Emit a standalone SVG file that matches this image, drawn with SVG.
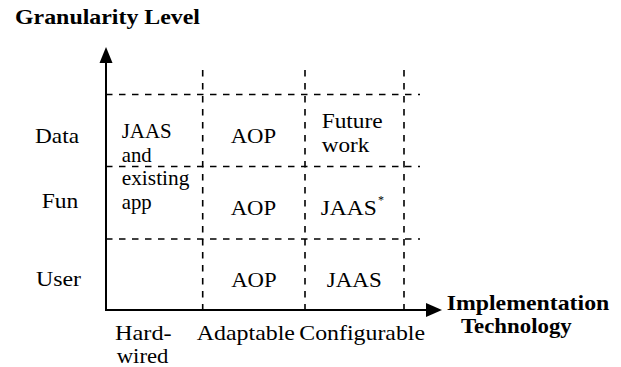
<svg xmlns="http://www.w3.org/2000/svg" width="621" height="367" viewBox="0 0 621 367">
<style>
  .t { font-family: "Liberation Serif", "Times New Roman", serif; font-size: 21px; fill: #000; }
  .b { font-family: "Liberation Serif", "Times New Roman", serif; font-size: 22px; font-weight: bold; fill: #000; }
  .b2 { font-size: 21px; }
  .grid { stroke: #000; stroke-width: 1.6; stroke-dasharray: 6.5 6.5; fill: none; }
  .axis { stroke: #000; stroke-width: 2; fill: none; }
</style>
<rect width="621" height="367" fill="#fff"/>

<g id="grid">
  <line class="grid" x1="106" y1="94.5" x2="420" y2="94.5"/>
  <line class="grid" x1="106" y1="166.5" x2="420" y2="166.5"/>
  <line class="grid" x1="106" y1="239" x2="420" y2="239"/>
  <line class="grid" x1="202.7" y1="70" x2="202.7" y2="310"/>
  <line class="grid" x1="305" y1="70" x2="305" y2="310"/>
  <line class="grid" x1="404" y1="70" x2="404" y2="310"/>
</g>

<g id="connectors">
  <line class="axis" x1="106" y1="311" x2="106" y2="55"/>
  <path d="M99.5,63 L106,47 L112.5,63 z" fill="#000"/>
  <line class="axis" x1="105" y1="310" x2="430" y2="310"/>
  <path d="M426,303 L442,310 L426,317 z" fill="#000"/>
</g>

<g id="axis-titles">
  <text class="b" x="15" y="24" textLength="185" lengthAdjust="spacingAndGlyphs">Granularity Level</text>
  <text class="b b2" x="446.7" y="309.5" textLength="162.6" lengthAdjust="spacingAndGlyphs">Implementation</text>
  <text class="b b2" x="461" y="333" textLength="110.7" lengthAdjust="spacingAndGlyphs">Technology</text>
</g>

<g id="row-labels">
  <text class="t" x="35" y="143" textLength="44" lengthAdjust="spacingAndGlyphs">Data</text>
  <text class="t" x="41.7" y="207.7" textLength="36.6" lengthAdjust="spacingAndGlyphs">Fun</text>
  <text class="t" x="36" y="286" textLength="45" lengthAdjust="spacingAndGlyphs">User</text>
</g>

<g id="col-labels">
  <text class="t" x="115" y="340" textLength="56.7" lengthAdjust="spacingAndGlyphs">Hard-</text>
  <text class="t" x="116.7" y="363" textLength="51.7" lengthAdjust="spacingAndGlyphs">wired</text>
  <text class="t" x="196.7" y="340" textLength="98.3" lengthAdjust="spacingAndGlyphs">Adaptable</text>
  <text class="t" x="299.3" y="340" textLength="125.7" lengthAdjust="spacingAndGlyphs">Configurable</text>
</g>

<g id="cell-hardwired">
  <text class="t" x="121.7" y="138.3" textLength="50" lengthAdjust="spacingAndGlyphs">JAAS</text>
  <text class="t" x="121.7" y="161.7" textLength="30" lengthAdjust="spacingAndGlyphs">and</text>
  <text class="t" x="121.7" y="185" textLength="67.7" lengthAdjust="spacingAndGlyphs">existing</text>
  <text class="t" x="121.7" y="208.5" textLength="30" lengthAdjust="spacingAndGlyphs">app</text>
</g>

<g id="cell-adaptable">
  <text class="t" x="230.7" y="143.3" textLength="45.5" lengthAdjust="spacingAndGlyphs">AOP</text>
  <text class="t" x="230.7" y="215" textLength="45.5" lengthAdjust="spacingAndGlyphs">AOP</text>
  <text class="t" x="231.2" y="286.7" textLength="45.5" lengthAdjust="spacingAndGlyphs">AOP</text>
</g>

<g id="cell-configurable">
  <text class="t" x="321.7" y="128.3" textLength="61" lengthAdjust="spacingAndGlyphs">Future</text>
  <text class="t" x="321.7" y="151.7" textLength="47.6" lengthAdjust="spacingAndGlyphs">work</text>
  <text class="t" x="320.7" y="215" textLength="56" lengthAdjust="spacingAndGlyphs">JAAS</text>
  <text class="t" x="378" y="204" style="font-size:12px">*</text>
  <text class="t" x="326.7" y="286.7" textLength="55" lengthAdjust="spacingAndGlyphs">JAAS</text>
</g>
</svg>
